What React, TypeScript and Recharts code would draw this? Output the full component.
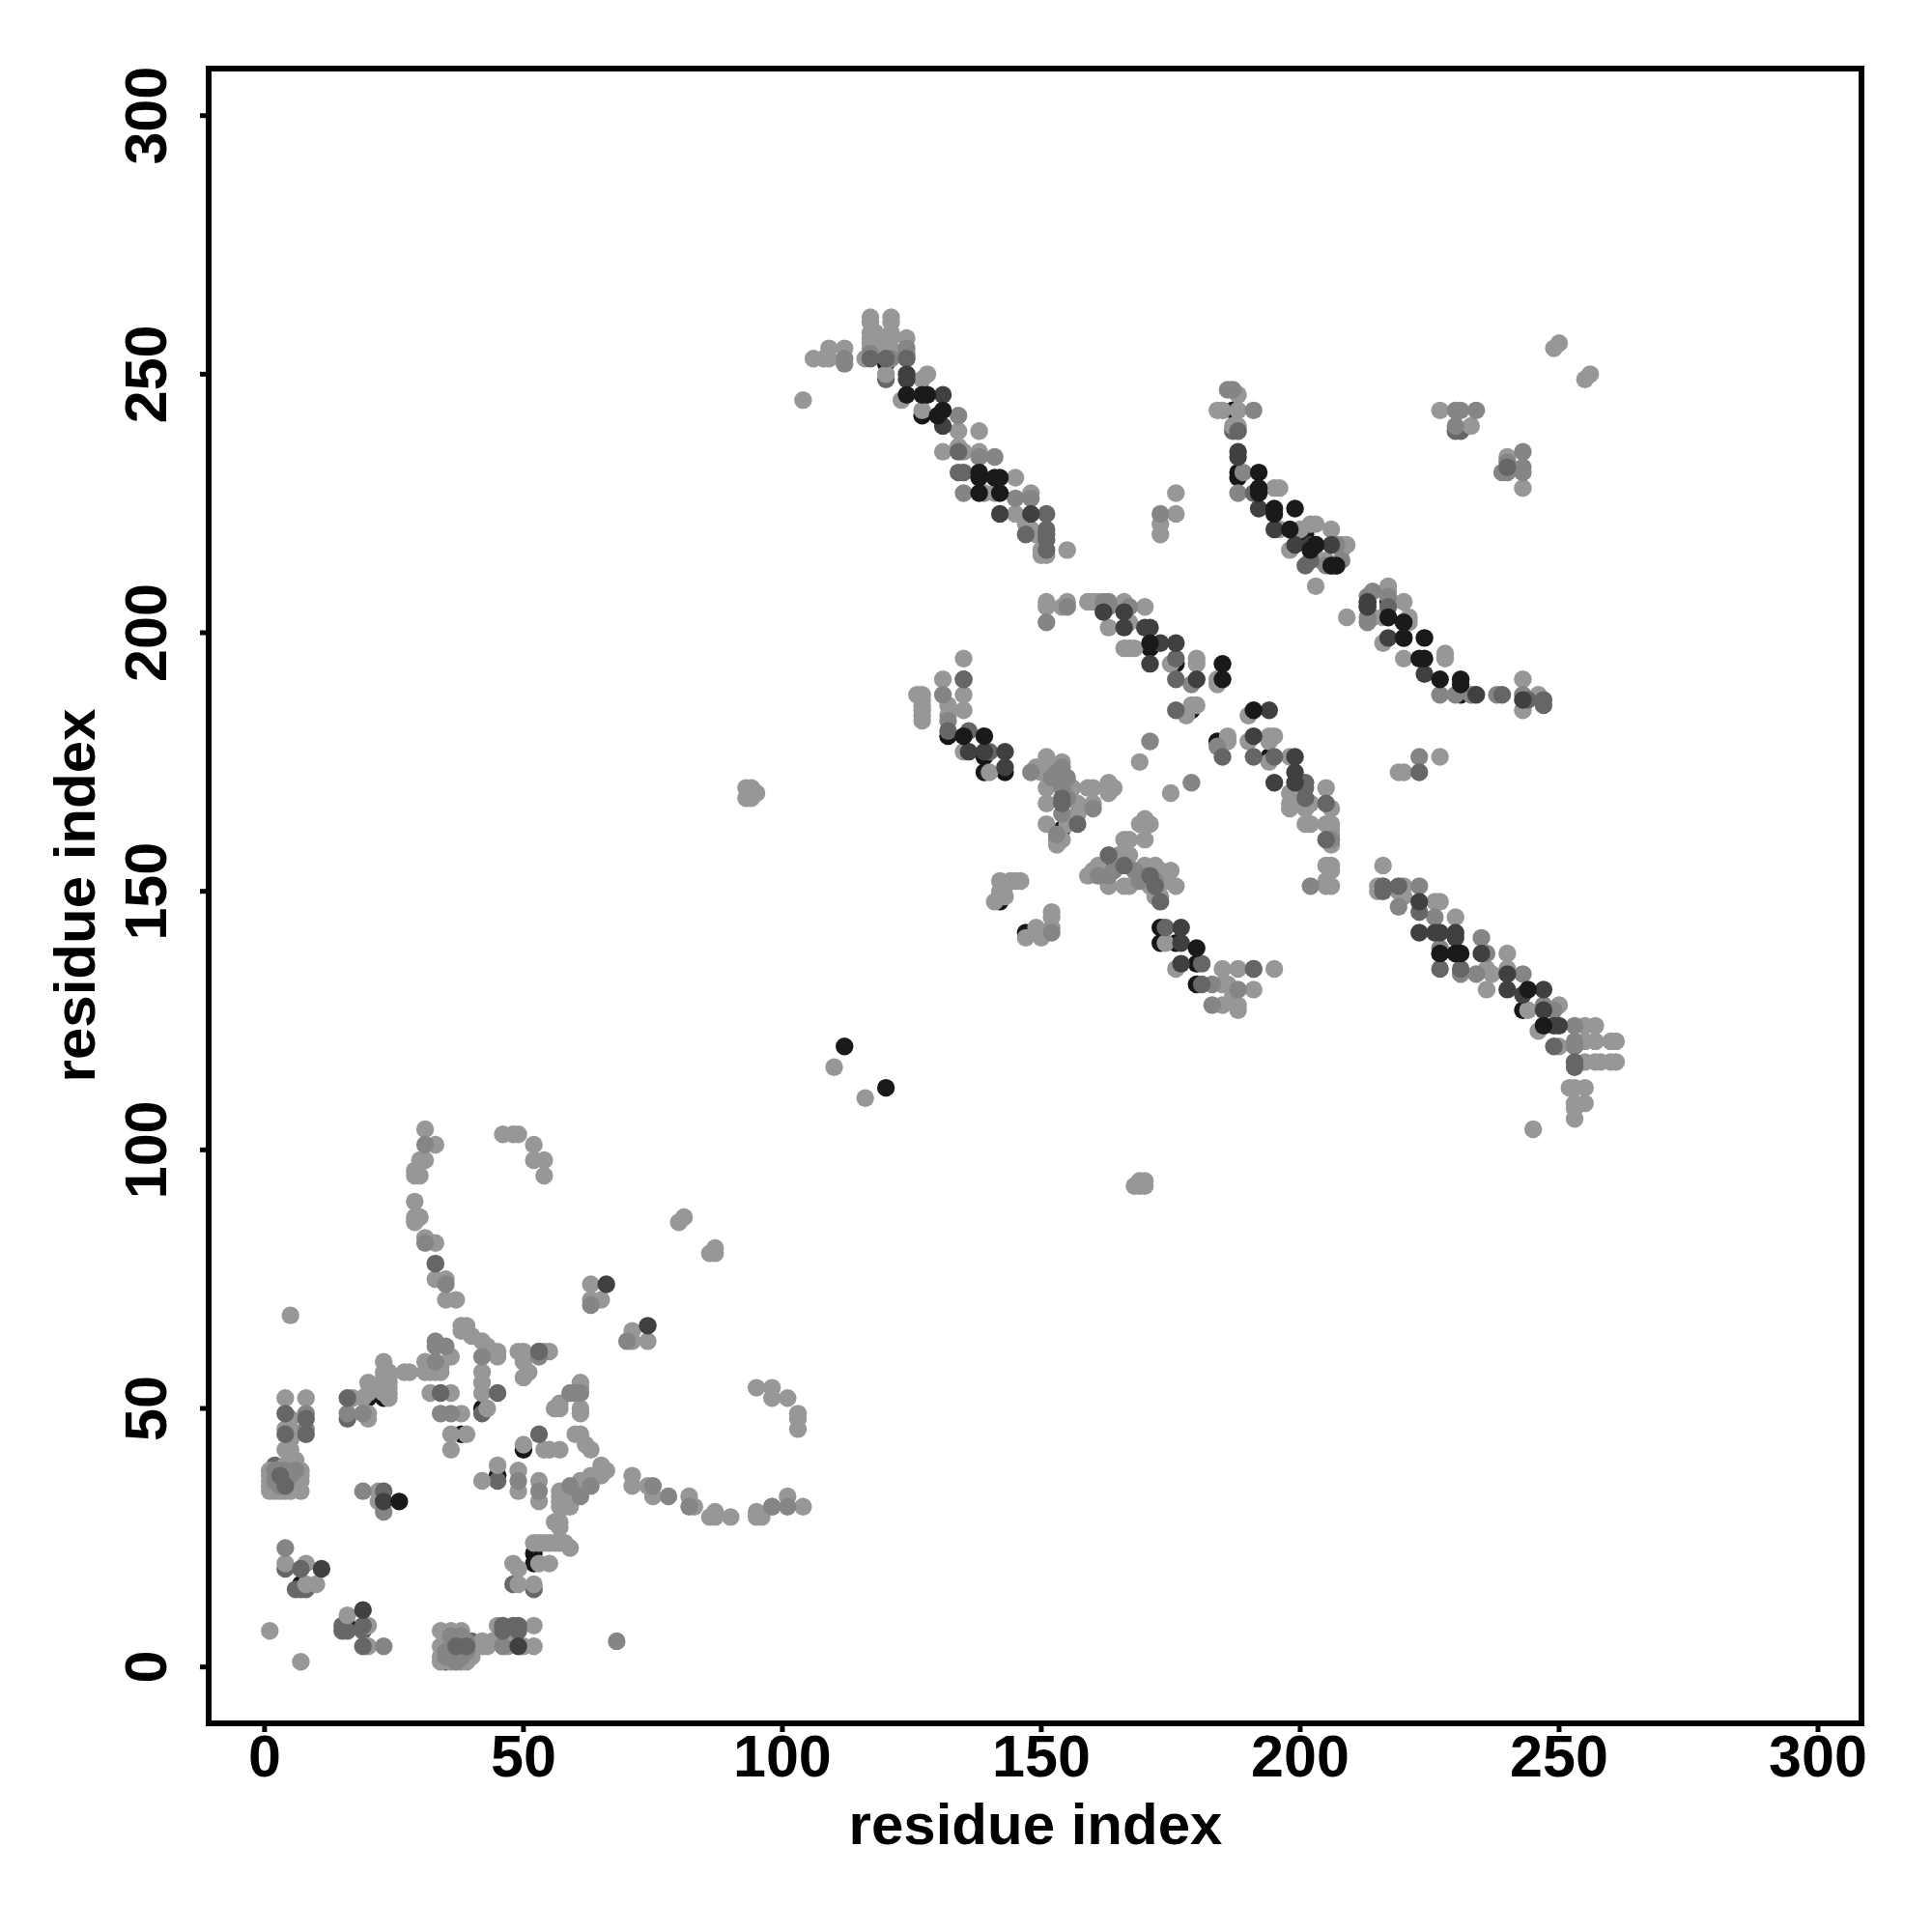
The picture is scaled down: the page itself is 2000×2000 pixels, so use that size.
import { ScatterChart, Scatter, XAxis, YAxis, ReferenceArea, Label } from 'recharts'

type Pair = [number, number]

const axisTicks = [0, 50, 100, 150, 200, 250, 300]
const axisTitle = 'residue index'

// contacts that sit underneath the lighter dots
const underBlack: Pair[] = [
  [4,35],[4,37],[3,36],[7,16],[16,8],[20,52],[23,52],[36,4],[38,2],[39,3],[42,50],[38,45],[45,37],[50,42],[52,22],[52,20],
  [127,242],[120,252],[188,231],[187,243],[188,230],[202,216],[203,217],[213,206],[217,203],[220,202],[220,199],[231,188],[217,206],[206,213],[207,213],[201,219],
  [179,185],[176,194],[132,180],[139,176],[139,173],[143,173],[154,162],[163,155],[142,148],[147,142],[173,140],[173,143],[176,140],[180,132],[180,136],[171,197],[184,179],[194,176],[199,170],[227,138],[243,127],[247,124],
]
const underSlate: Pair[] = [
  [2,39],[3,38],[3,37],[2,37],[3,36],[2,36],[4,19],[15,8],[15,7],[16,7],[16,48],[6,15],[7,15],[8,15],[19,7],[35,1],[37,2],[38,4],[40,5],[42,49],[48,16],[52,15],[45,36],
  [120,249],[213,205],[187,239],[231,239],[230,239],
]

const lightContacts: Pair[] = [
  // lower left block
  [5,68],[1,7],[7,1],[4,52],[8,52],[5,48],[4,46],[5,46],[5,44],[4,42],[5,42],[5,41],[5,40],[6,40],[1,38],[1,37],[1,36],[1,35],[1,34],[2,35],[2,34],[3,34],[4,34],[5,34],[5,36],[5,38],[4,39],[5,39],[6,37],[7,38],[7,37],[7,34],[6,36],[7,36],
  [22,34],[22,32],[4,20],[8,20],[10,16],[8,16],[16,10],[20,8],[20,4],
  [34,7],[36,7],[38,7],[34,4],[34,2],[34,1],[36,1],[38,1],[39,1],[39,2],[40,2],[41,4],[42,4],[43,4],[42,5],[44,5],[46,5],[47,5],[47,4],[52,8],[52,4],[50,4],[45,8],
  [17,52],[20,55],[20,53],[19,52],[20,49],[19,49],[20,48],[23,59],[23,57],[23,56],[23,55],[23,54],[23,53],[24,57],[24,56],[24,55],[24,54],[24,53],[24,52],[27,57],[28,57],[31,59],[31,57],[33,57],[34,57],[32,57],[34,58],[36,60],
  [38,66],[39,66],[38,65],[39,65],[40,64],[42,63],[43,62],[45,61],[45,60],[42,57],[42,55],[42,53],[43,50],
  [32,53],[36,53],[38,49],[39,45],[36,45],[36,42],
  [49,61],[50,61],[54,61],[55,61],[50,59],[51,57],[50,56],[61,55],[61,54],[57,51],[56,50],[57,50],[61,50],[61,49],
  [50,43],[54,42],[55,42],[57,42],[60,45],[61,45],[62,43],[63,42],[65,39],[66,38],[65,37],[63,37],[61,36],[60,35],[57,34],[57,33],[58,33],[59,33],[57,32],[57,31],[58,31],[59,31],[57,28],[56,28],[57,27],
  [45,39],[42,36],[49,38],[49,34],[53,36],[53,32],[52,24],[53,24],[54,24],[55,24],[56,24],[57,24],[58,24],[59,23],[55,20],[53,20],[48,20],[49,19],[49,16],[52,16],
  [31,104],[33,101],[31,98],[30,98],[29,96],[30,95],[29,95],[29,90],[30,87],[29,87],[29,86],[31,83],[33,82],[33,75],[35,75],[35,71],[37,71],
  [46,103],[48,103],[49,103],[52,101],[52,98],[54,98],[54,95],
  [63,74],[63,71],[65,71],[71,65],[71,63],[74,63],[81,87],[80,86],[87,81],[86,80],[87,80],
  [95,54],[98,54],[98,52],[101,52],[103,49],[103,48],[103,46],
  [71,37],[71,35],[74,35],[75,33],[82,33],[83,31],[86,29],[87,30],[87,29],[90,29],[95,30],[95,29],[96,29],[98,31],[101,33],[104,31],
  [110,116],[116,110],[93,170],[94,170],[93,168],[94,168],[95,169],[168,93],[169,94],[169,93],[170,93],[170,94],
  // upper ridge, left
  [104,245],[106,253],[108,253],[109,255],[109,253],[112,255],[117,261],[121,261],[117,260],[117,258],[118,258],[117,257],[121,260],[121,258],[121,257],[124,257],[117,256],[117,255],[121,255],[118,256],[119,255],[116,253],[120,250],[128,250],[127,249],[123,245],[127,243],[134,239],[138,239],[131,235],[134,236],[135,235],[138,235],[145,230],[139,227],[141,227],[148,227],[145,223],[148,220],[147,221],[149,219],[150,216],[151,215],[155,216],[150,215],
  // upper ridge, right
  [188,246],[185,243],[184,243],[188,243],[188,240],[187,240],[195,228],[196,228],[196,220],[200,220],[203,221],[202,221],[206,220],[198,216],[209,217],[208,217],[208,216],[203,209],[209,203],[217,209],[217,208],[220,206],[221,202],[221,203],[216,198],[220,195],[228,196],[228,195],[204,214],[205,214],[216,203],[214,203],[246,188],[243,185],[227,243],[233,240],[240,234],[243,228],[255,249],[256,250],[249,255],[250,256],
  [173,219],[173,221],[176,227],[176,223],[219,173],[220,173],[227,176],[243,191],
  // middle ridge
  [151,206],[151,205],[154,205],[155,206],[159,206],[160,206],[161,206],[163,201],[166,206],[170,205],[167,202],[166,197],[167,197],[168,197],[175,194],[180,195],[180,194],[184,190],[184,191],[179,186],[180,186],[178,184],[186,180],[186,179],[169,175],[175,169],[190,184],[190,179],
  [195,180],[194,180],[194,179],[205,170],[206,166],[198,176],[198,169],[198,167],[198,166],[201,166],[202,167],[202,163],[201,163],[206,163],[206,162],[206,161],[206,159],[205,155],[206,155],[205,151],[206,151],[205,152],[206,154],[194,175],[205,163],
  // left ridge and centre blocks
  [135,195],[131,191],[135,188],[135,185],[126,188],[127,188],[127,187],[127,186],[127,185],[127,184],[127,183],[132,186],[132,184],[135,177],[140,173],[195,135],
  [151,176],[149,174],[150,173],[152,174],[154,175],[151,170],[151,167],[151,163],[156,170],[159,170],[160,170],[163,171],[164,170],[163,169],[157,167],[160,167],[157,165],[154,160],[153,160],[153,159],[155,163],
  [170,164],[169,163],[171,163],[170,160],[166,160],[167,160],[160,154],[159,153],[161,155],[165,157],[167,157],[163,151],[166,151],[167,151],[170,155],[172,155],[173,154],[175,154],[176,151],[174,152],[172,149],[173,149],[171,151],
  [145,152],[146,152],[144,152],[142,152],[143,151],[142,150],[143,149],[141,148],[152,146],[152,145],[152,143],[151,142],[149,143],[150,141],[147,141],
  [174,140],[176,135],[185,135],[188,135],[185,132],[186,132],[191,131],[185,128],[188,128],[188,127],[187,130],
  // lower right ridge
  [216,155],[215,151],[215,150],[220,151],[220,149],[219,150],[226,148],[227,148],[230,145],[236,135],[237,134],[236,131],[240,138],[240,135],[244,127],[246,123],[250,128],[250,120],[255,124],[257,124],[255,121],[257,121],[260,121],[261,121],[255,117],[257,117],[258,117],[260,117],[261,117],[252,112],[253,112],[255,112],[253,109],[255,109],[253,108],[253,106],[245,104],
]

const midContacts: Pair[] = [
  [68,5],[19,34],[23,30],[4,23],[23,4],[36,6],[36,2],[37,1],[35,2],[37,3],[38,3],[38,6],[39,5],[8,49],[8,46],[46,4],
  [2,38],[2,36],[3,38],[4,38],[3,35],[5,37],[4,36],[3,37],[6,38],[35,3],[36,3],[37,5],[38,2],[39,3],
  [33,63],[35,62],[33,62],[33,59],[31,82],[33,78],[35,74],[42,60],[31,101],[63,70],[70,63],[78,33],[82,31],[101,31],
  [34,49],[36,49],[53,60],[53,61],[59,53],[60,53],[61,53],[63,35],[61,33],[59,35],[49,36],[53,34],[98,31],[75,35],[19,49],[16,49],
  [112,253],[112,252],[117,254],[124,255],[121,253],[124,254],[138,234],[141,234],[145,226],[148,226],[134,242],[135,227],
  [186,247],[187,247],[191,243],[189,231],[188,227],[213,207],[214,208],[217,207],[213,203],[213,202],[208,214],[207,217],[227,188],[230,188],[231,189],[233,188],[238,188],[243,188],[230,243],[231,243],[234,243],[230,240],[243,235],[240,233],[243,232],[243,231],[239,231],[240,231],[205,213],
  [173,223],[223,176],[202,151],[206,160],[151,202],[155,205],[162,206],[163,206],[163,205],[167,205],[179,190],[171,179],[179,171],[184,178],
  [131,188],[132,183],[135,191],[148,173],[155,172],[154,172],[154,174],[154,170],[160,166],[153,161],[152,172],[153,173],[155,168],[154,165],
  [161,153],[163,153],[169,152],[170,153],[152,142],[183,132],[183,128],[188,131],[191,135],[164,154],[168,154],[172,152],
  [223,151],[219,147],[226,145],[227,139],[235,141],[236,138],[231,134],[234,134],[243,134],[253,121],[253,124],[253,120],[249,127],[247,128],
]

const slateContacts: Pair[] = [
  [4,49],[8,48],[8,45],[4,45],[23,34],[7,19],[19,8],[19,4],[46,8],[49,8],[48,8],[46,7],[49,7],[16,52],[34,53],[45,53],[53,45],[53,61],[33,78],
  [3,37],[4,35],[37,4],[39,4],
  [120,253],[117,253],[124,253],[134,235],[134,231],[135,231],[147,219],[151,223],[151,220],[151,219],[151,216],[151,218],
  [188,239],[217,205],[239,188],[244,187],[247,187],[247,186],[240,232],[191,227],[201,213],[202,214],
  [176,195],[176,191],[185,176],[176,185],[191,176],[195,176],[201,171],[201,170],[205,160],[205,167],[201,168],[223,173],
  [135,191],[132,181],[136,181],[140,177],[154,167],[157,163],[163,157],[166,155],[171,153],[172,151],[173,148],[174,143],[181,136],[181,132],[191,135],[154,168],
  [216,151],[216,150],[219,151],[227,135],[231,135],[223,146],[253,117],[253,116],[249,120],
]

const darkContacts: Pair[] = [
  [66,74],[74,66],[49,4],[11,19],[19,11],[23,32],
  [124,250],[124,249],[131,246],[131,240],[142,223],[148,223],
  [188,235],[188,234],[192,224],[195,220],[199,217],[202,217],[206,217],[217,199],[224,192],[234,188],[243,187],[213,205],[213,206],
  [162,204],[166,204],[166,201],[170,201],[171,201],[173,198],[171,194],[176,198],[180,191],[191,180],[194,185],[199,176],[199,173],[195,171],[199,171],
  [136,177],[139,177],[143,177],[143,174],[177,143],[177,136],[177,140],[223,148],[223,142],[226,142],[227,142],[230,142],[230,141],[235,138],[240,134],[240,131],[243,130],[247,131],[247,127],[249,124],[250,124],
]

const blackContacts: Pair[] = [
  [26,32],[112,120],[120,112],
  [124,246],[127,246],[128,246],[131,243],[130,242],[138,231],[138,230],[141,230],[142,230],[142,227],[138,227],
  [192,231],[192,228],[192,227],[195,224],[195,223],[199,224],[198,220],[202,216],[203,217],[206,213],[207,213],[217,203],[220,202],[220,199],[224,199],[223,195],[224,195],[227,191],[231,191],[231,190],
  [171,198],[185,194],[185,191],[191,185],[135,180],[139,180],[180,139],
  [227,138],[230,138],[231,138],[244,131],[247,124],
]

const toPoints = (pairs: Pair[]) => pairs.map(([x, y]) => ({ x, y }))

const labelFont = { fontFamily: 'Liberation Sans', fontWeight: 700, fontSize: 60, fill: '#000' }

function BottomTick({ x, payload }: any) {
  return <text x={x} y={1839} textAnchor="middle" {...labelFont} fontSize={61}>{payload.value}</text>
}

function LeftTick({ y, payload }: any) {
  return <text x={172} y={y} textAnchor="middle" transform={`rotate(-90 172 ${y})`} {...labelFont} fontSize={61}>{payload.value}</text>
}

export default function App() {
  const layers: [Pair[], string][] = [
    [underBlack, '#161616'],
    [underSlate, '#676767'],
    [lightContacts, '#979797'],
    [midContacts, '#858585'],
    [slateContacts, '#666666'],
    [darkContacts, '#404040'],
    [blackContacts, '#1a1a1a'],
  ]
  return (
    <div style={{ position: 'absolute', left: 0, top: 0, width: 2000, height: 2000, background: '#fff' }}>
      <ScatterChart width={2000} height={2000} margin={{ top: 71, right: 73, bottom: 116, left: 116 }}>
        <XAxis
          type="number"
          dataKey="x"
          domain={[-10.8, 308.4]}
          ticks={axisTicks}
          height={100}
          axisLine={false}
          tickSize={9}
          tickLine={{ stroke: '#000', strokeWidth: 5 }}
          tick={BottomTick}
          interval={0}
        >
          <Label content={() => <text x={1072} y={1909} textAnchor="middle" {...labelFont}>{axisTitle}</text>} />
        </XAxis>
        <YAxis
          type="number"
          dataKey="y"
          domain={[-10.9, 309.1]}
          ticks={axisTicks}
          width={100}
          axisLine={false}
          tickSize={9}
          tickLine={{ stroke: '#000', strokeWidth: 5 }}
          tick={LeftTick}
          interval={0}
        >
          <Label content={() => <text x={98} y={927} textAnchor="middle" transform="rotate(-90 98 927)" {...labelFont}>{axisTitle}</text>} />
        </YAxis>
        <ReferenceArea x1={-10.8} x2={308.4} y1={-10.9} y2={309.1} fill="none" stroke="#000" strokeWidth={6} ifOverflow="visible" />
        {layers.map(([pairs, color], i) => (
          <Scatter
            key={i}
            data={toPoints(pairs)}
            isAnimationActive={false}
            shape={(p: any) => <circle cx={p.cx} cy={p.cy} r={9.2} fill={color} />}
          />
        ))}
      </ScatterChart>
    </div>
  )
}
